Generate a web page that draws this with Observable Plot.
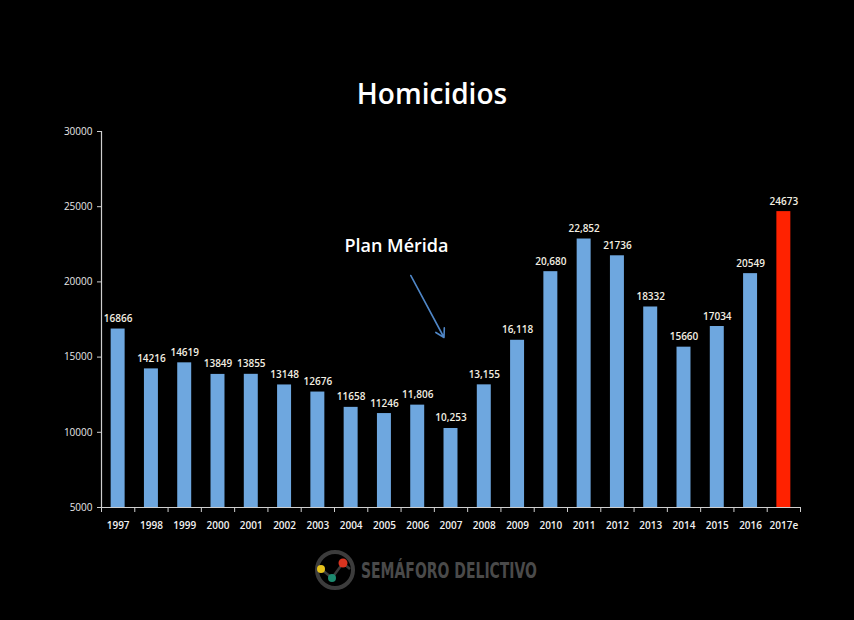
<!DOCTYPE html>
<html>
<head>
<meta charset="utf-8">
<script src="https://cdn.jsdelivr.net/npm/d3@7"></script>
<script src="https://cdn.jsdelivr.net/npm/@observablehq/plot@0.6"></script>
<style>
  html, body { margin: 0; padding: 0; background: #000; }
  #wrap { width: 854px; height: 620px; overflow: hidden; background: #000; }
  svg { display: block; }
</style>
</head>
<body>
<div id="wrap">
  <svg id="title" width="854" height="115">
    <text x="432" y="104" text-anchor="middle" fill="#ffffff" font-family="Open Sans, sans-serif" font-size="28" font-weight="600">Homicidios</text>
  </svg>
  <div id="chart"></div>
  <svg id="logo" width="854" height="75">
    <circle cx="335" cy="25" r="18" fill="none" stroke="#3c3c3c" stroke-width="4"></circle>
    <polyline points="321,24 332,33 343,18 350,24" fill="none" stroke="#3c3c3c" stroke-width="2.5"></polyline>
    <circle cx="321" cy="24" r="4" fill="#e6c21c"></circle>
    <circle cx="332" cy="33" r="4" fill="#1d8a6f"></circle>
    <circle cx="343" cy="18" r="4.5" fill="#d93420"></circle>
    <text x="361" y="33" fill="#4a4a4a" font-family="DejaVu Sans Condensed, DejaVu Sans, sans-serif" font-stretch="condensed" font-weight="bold" font-size="21" textLength="176" lengthAdjust="spacingAndGlyphs">SEMÁFORO DELICTIVO</text>
  </svg>
</div>
<script>
// ---- data ----
const years = ["1997","1998","1999","2000","2001","2002","2003","2004","2005","2006","2007","2008","2009","2010","2011","2012","2013","2014","2015","2016","2017e"];
const homicides = [16866,14216,14619,13849,13855,13148,12676,11658,11246,11806,10253,13155,16118,20680,22852,21736,18332,15660,17034,20549,24673];
const labels = ["16866","14216","14619","13849","13855","13148","12676","11658","11246","11,806","10,253","13,155","16,118","20,680","22,852","21736","18332","15660","17034","20549","24673"];
const estimated = ["2017e"];
const yTicks = [5000,10000,15000,20000,25000,30000];
const annotationText = ["Plan Mérida"];

const data = years.map((y, i) => ({year: y, value: homicides[i], label: labels[i], est: estimated.includes(y)}));

// ---- layout ----
const W = 854, H = 430;
const mL = 101, mR = 54, mT = 16, mB = 38;
const yMin = 5000, yMax = 30000;
const step = (W - mL - mR) / years.length;
const tickLen = 5 * (yMax - yMin) / (H - mT - mB);

const chart = Plot.plot({
  width: W,
  height: H,
  marginLeft: mL,
  marginRight: mR,
  marginTop: mT,
  marginBottom: mB,
  style: {background: "#000", color: "#e8e8e8", fontFamily: "Open Sans, sans-serif", fontSize: "10px", overflow: "visible"},
  x: {domain: years, paddingInner: 0.58, paddingOuter: 0.29, round: false, label: null},
  y: {domain: [yMin, yMax], label: null},
  marks: [
    Plot.barY(data, {x: "year", y1: yMin, y2: "value", fill: d => d.est ? "#ff2200" : "#6ea7df"}),
    Plot.text(data, {x: "year", y: "value", text: "label", lineAnchor: "bottom", dy: -7, fill: "#f3efe2", fontSize: 10, fontWeight: 600}),
    // axis lines
    Plot.ruleY([yMin], {stroke: "#cfcfcf", strokeWidth: 1.2}),
    Plot.ruleX([years[0]], {dx: -step / 2, y1: yMin, y2: yMax, stroke: "#cfcfcf", strokeWidth: 1.2}),
    // category boundary ticks
    Plot.ruleX(years, {x: d => d, dx: -step / 2, y1: yMin, y2: yMin - tickLen, stroke: "#cfcfcf"}),
    Plot.ruleX([years[years.length - 1]], {dx: step / 2, y1: yMin, y2: yMin - tickLen, stroke: "#cfcfcf"}),
    Plot.axisY({ticks: yTicks, tickSize: 4, tickPadding: 5, tickFormat: d => String(d), stroke: "#cfcfcf", fill: "#e8e8e8", fontSize: 10}),
    Plot.axisX({tickSize: 0, tickPadding: 14, fill: "#f0f0f0", fontSize: 10, fontWeight: 600}),
    // annotation
    Plot.text(annotationText, {x: () => "2005", y: () => 22354, dx: 12, text: d => d, fill: "#ffffff", fontSize: 18, fontWeight: 600}),
    Plot.arrow([0], {x1: () => "2006", y1: () => 20426, x2: () => "2007", y2: () => 16303, dx: -7, stroke: "#4f86c6", strokeWidth: 1.6, headLength: 9, bend: 0})
  ]
});
document.getElementById("chart").appendChild(chart);
</script>
</body>
</html>
